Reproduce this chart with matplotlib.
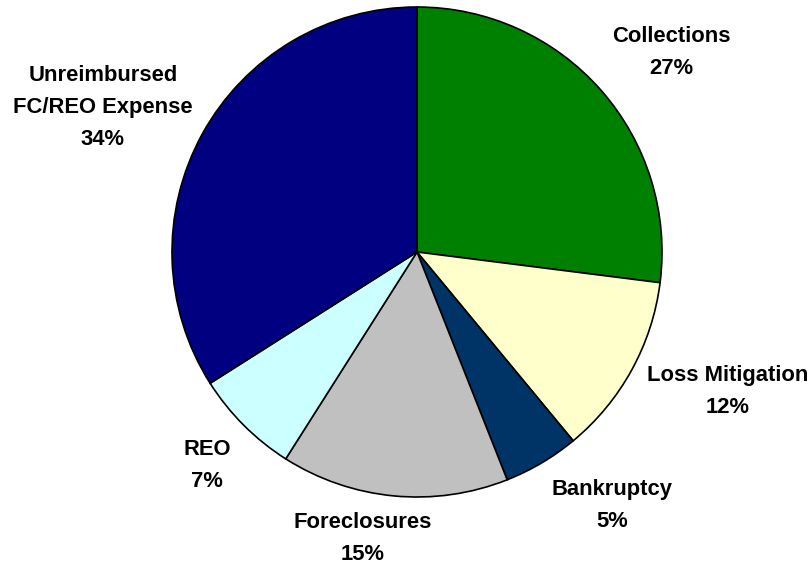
import numpy as np
import matplotlib
matplotlib.use("Agg")
import matplotlib.pyplot as plt

categories = ["Collections", "Loss Mitigation", "Bankruptcy", "Foreclosures",
              "REO", "Unreimbursed\nFC/REO Expense"]
shares = [27, 12, 5, 15, 7, 34]
colors = ["#008000", "#FFFFCC", "#003366", "#C0C0C0", "#CCFFFF", "#000080"]

# label anchors in pixels: horizontal centre, baseline of the last line (y from top)
label_px = [(671, 74), (728, 413), (612, 527), (363, 560), (207, 487), (103, 145)]

W, H = 811, 564
cx, cy, r = 417, 252, 245

plt.rcParams["font.family"] = ["Liberation Sans", "DejaVu Sans"]
fig = plt.figure(figsize=(W / 100, H / 100), dpi=100)
ax = fig.add_axes([0, 0, 1, 1])

ax.pie(shares, colors=colors, startangle=90, counterclock=False, radius=1,
       wedgeprops=dict(edgecolor="black", linewidth=1.2))

# pie() resets the limits, so fix them afterwards
ax.set_xlim(-cx / r, (W - cx) / r)
ax.set_ylim(-(H - cy) / r, cy / r)
ax.set_aspect("equal")
ax.axis("off")

for name, val, (px, py) in zip(categories, shares, label_px):
    ax.text((px - cx) / r, (cy - py) / r, f"{name}\n{val}%", ha="center",
            va="baseline", fontsize=15.8, fontweight="bold", linespacing=1.7)

fig.savefig("out.png", dpi=100)
